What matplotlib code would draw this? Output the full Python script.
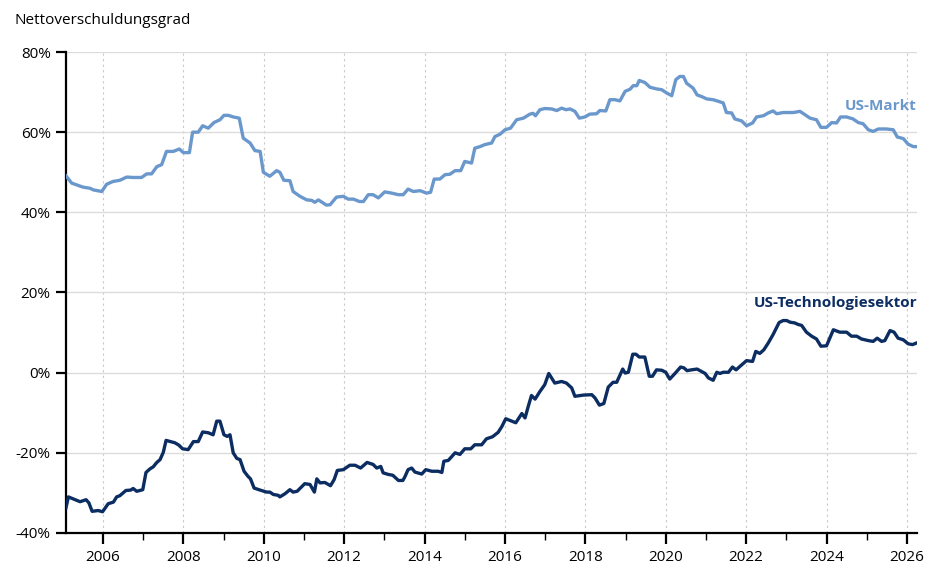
import matplotlib.pyplot as plt
from matplotlib.ticker import MultipleLocator, FuncFormatter

plt.rcParams['font.family'] = ['Open Sans', 'DejaVu Sans']

# US-Markt: (year, net gearing %)
markt_years = [2005.08, 2005.22, 2005.50, 2005.68, 2005.76, 2005.97, 2006.09, 2006.25,
               2006.42, 2006.59, 2006.75, 2006.96, 2007.09, 2007.21, 2007.34, 2007.46,
               2007.58, 2007.75, 2007.90, 2008.00, 2008.15, 2008.23, 2008.37, 2008.48,
               2008.62, 2008.76, 2008.91, 2009.01, 2009.12, 2009.24, 2009.39, 2009.49,
               2009.66, 2009.78, 2009.91, 2009.99, 2010.15, 2010.32, 2010.40, 2010.50,
               2010.65, 2010.73, 2010.90, 2011.07, 2011.19, 2011.27, 2011.36, 2011.56,
               2011.65, 2011.81, 2011.98, 2012.10, 2012.23, 2012.38, 2012.48, 2012.60,
               2012.72, 2012.85, 2013.01, 2013.18, 2013.35, 2013.47, 2013.59, 2013.72,
               2013.89, 2014.05, 2014.15, 2014.24, 2014.38, 2014.51, 2014.63, 2014.76,
               2014.90, 2015.00, 2015.17, 2015.25, 2015.38, 2015.50, 2015.67, 2015.75,
               2015.88, 2016.00, 2016.14, 2016.29, 2016.46, 2016.62, 2016.70, 2016.76,
               2016.87, 2016.99, 2017.16, 2017.29, 2017.41, 2017.52, 2017.62, 2017.74,
               2017.85, 2017.99, 2018.11, 2018.28, 2018.36, 2018.51, 2018.61, 2018.74,
               2018.86, 2018.99, 2019.11, 2019.19, 2019.28, 2019.34, 2019.48, 2019.61,
               2019.77, 2019.90, 2020.02, 2020.15, 2020.25, 2020.35, 2020.44, 2020.52,
               2020.68, 2020.78, 2020.89, 2021.02, 2021.18, 2021.31, 2021.43, 2021.51,
               2021.64, 2021.72, 2021.89, 2022.01, 2022.16, 2022.26, 2022.43, 2022.55,
               2022.67, 2022.76, 2022.92, 2023.17, 2023.34, 2023.59, 2023.75, 2023.86,
               2024.00, 2024.13, 2024.25, 2024.35, 2024.50, 2024.66, 2024.79, 2024.91,
               2025.04, 2025.16, 2025.29, 2025.49, 2025.66, 2025.76, 2025.91, 2026.03,
               2026.16, 2026.24]
markt_values = [49.1, 47.3, 46.3, 46.0, 45.6, 45.2, 47.0, 47.7,
                48.0, 48.8, 48.7, 48.7, 49.6, 49.6, 51.4, 51.9,
                55.2, 55.2, 55.8, 54.9, 54.9, 60.0, 60.0, 61.6,
                61.0, 62.4, 63.1, 64.2, 64.2, 63.8, 63.5, 58.5,
                57.3, 55.4, 55.2, 50.0, 49.0, 50.4, 50.0, 48.0,
                47.9, 45.2, 44.0, 43.1, 43.0, 42.5, 43.1, 41.8,
                41.9, 43.8, 44.0, 43.3, 43.3, 42.7, 42.7, 44.4,
                44.4, 43.6, 45.1, 44.8, 44.4, 44.4, 45.8, 45.2,
                45.4, 44.8, 45.0, 48.3, 48.3, 49.4, 49.5, 50.4,
                50.4, 52.7, 52.3, 56.0, 56.4, 56.9, 57.3, 58.9,
                59.5, 60.6, 61.0, 63.1, 63.5, 64.5, 64.7, 64.1,
                65.6, 65.9, 65.8, 65.4, 66.0, 65.6, 65.8, 65.2,
                63.5, 63.8, 64.5, 64.6, 65.4, 65.3, 68.1, 68.1,
                67.8, 70.2, 70.7, 71.6, 71.6, 72.9, 72.4, 71.2,
                70.8, 70.6, 69.8, 69.1, 73.1, 73.9, 73.9, 72.2,
                71.0, 69.3, 68.9, 68.3, 68.1, 67.7, 67.3, 64.9,
                64.8, 63.3, 62.8, 61.6, 62.3, 63.8, 64.1, 64.8,
                65.3, 64.6, 64.9, 64.9, 65.2, 63.5, 63.1, 61.2,
                61.2, 62.4, 62.3, 63.8, 63.8, 63.3, 62.4, 62.1,
                60.6, 60.2, 60.8, 60.8, 60.6, 58.8, 58.4, 57.0,
                56.4, 56.4]

# US-Technologiesektor
tech_years = [2005.08, 2005.14, 2005.26, 2005.43, 2005.58, 2005.65, 2005.73, 2005.88,
              2005.99, 2006.13, 2006.26, 2006.34, 2006.42, 2006.57, 2006.69, 2006.75,
              2006.84, 2006.99, 2007.07, 2007.17, 2007.25, 2007.34, 2007.42, 2007.50,
              2007.57, 2007.68, 2007.79, 2007.89, 2007.98, 2008.12, 2008.25, 2008.37,
              2008.48, 2008.62, 2008.74, 2008.83, 2008.91, 2009.01, 2009.09, 2009.16,
              2009.24, 2009.33, 2009.41, 2009.51, 2009.61, 2009.67, 2009.76, 2009.91,
              2010.07, 2010.15, 2010.24, 2010.36, 2010.40, 2010.53, 2010.65, 2010.73,
              2010.83, 2011.02, 2011.15, 2011.26, 2011.32, 2011.40, 2011.52, 2011.66,
              2011.75, 2011.83, 2011.98, 2012.14, 2012.27, 2012.41, 2012.57, 2012.72,
              2012.81, 2012.91, 2012.97, 2013.10, 2013.21, 2013.35, 2013.46, 2013.51,
              2013.59, 2013.68, 2013.76, 2013.93, 2014.03, 2014.18, 2014.34, 2014.43,
              2014.48, 2014.59, 2014.76, 2014.88, 2015.00, 2015.15, 2015.25, 2015.42,
              2015.54, 2015.69, 2015.83, 2015.92, 2016.02, 2016.12, 2016.27, 2016.42,
              2016.50, 2016.58, 2016.66, 2016.75, 2016.87, 2016.99, 2017.09, 2017.24,
              2017.41, 2017.53, 2017.66, 2017.74, 2017.95, 2018.16, 2018.24, 2018.35,
              2018.46, 2018.57, 2018.69, 2018.78, 2018.93, 2018.99, 2019.07, 2019.18,
              2019.26, 2019.34, 2019.48, 2019.59, 2019.67, 2019.77, 2019.90, 2020.00,
              2020.10, 2020.23, 2020.37, 2020.45, 2020.53, 2020.64, 2020.78, 2020.89,
              2020.98, 2021.06, 2021.18, 2021.27, 2021.35, 2021.43, 2021.56, 2021.66,
              2021.75, 2021.85, 2022.01, 2022.16, 2022.24, 2022.34, 2022.44, 2022.55,
              2022.67, 2022.82, 2022.92, 2023.01, 2023.09, 2023.21, 2023.30, 2023.38,
              2023.50, 2023.63, 2023.75, 2023.86, 2024.00, 2024.17, 2024.33, 2024.50,
              2024.62, 2024.75, 2024.87, 2025.04, 2025.16, 2025.26, 2025.37, 2025.45,
              2025.58, 2025.68, 2025.78, 2025.91, 2026.03, 2026.14, 2026.24]
tech_values = [-33.7, -31.0, -31.5, -32.2, -31.7, -32.5, -34.6, -34.4,
               -34.7, -32.7, -32.3, -31.0, -30.7, -29.4, -29.3, -28.9,
               -29.6, -29.2, -24.9, -24.0, -23.5, -22.4, -21.7, -19.9,
               -16.9, -17.2, -17.5, -18.1, -19.0, -19.2, -17.2, -17.2,
               -14.8, -15.0, -15.5, -12.1, -12.1, -15.5, -15.9, -15.5,
               -20.0, -21.4, -21.7, -24.6, -25.9, -26.5, -28.8, -29.3,
               -29.8, -29.8, -30.4, -30.6, -31.0, -30.2, -29.2, -29.8,
               -29.6, -27.7, -27.9, -29.8, -26.5, -27.5, -27.4, -28.2,
               -26.7, -24.4, -24.2, -23.1, -23.1, -23.8, -22.4, -22.9,
               -23.8, -23.4, -25.0, -25.4, -25.6, -26.9, -26.9, -26.0,
               -24.2, -23.8, -24.8, -25.3, -24.2, -24.6, -24.6, -24.9,
               -22.1, -21.9, -20.0, -20.4, -19.0, -19.0, -18.0, -18.0,
               -16.5, -16.0, -14.9, -13.5, -11.5, -11.9, -12.5, -10.2,
               -11.3, -8.4, -5.7, -6.6, -4.7, -3.0, -0.2, -2.6,
               -2.2, -2.6, -3.8, -5.9, -5.6, -5.5, -6.3, -8.1,
               -7.7, -3.6, -2.4, -2.4, 0.9, -0.1, 0.1, 4.6,
               4.6, 3.9, 3.9, -0.9, -0.9, 0.7, 0.6, 0.1,
               -1.6, -0.2, 1.4, 1.2, 0.5, 0.7, 0.9, 0.3,
               -0.2, -1.3, -1.9, 0.1, -0.2, 0.1, 0.1, 1.4,
               0.7, 1.6, 3.0, 2.8, 5.3, 4.8, 5.7, 7.4,
               9.5, 12.5, 13.0, 13.0, 12.6, 12.4, 12.0, 11.8,
               10.1, 9.1, 8.4, 6.6, 6.7, 10.7, 10.1, 10.1,
               9.1, 9.1, 8.4, 8.0, 7.8, 8.6, 7.8, 8.0,
               10.5, 10.1, 8.6, 8.2, 7.2, 7.0, 7.4]

markt_color = '#6b98cc'
tech_color = '#0c2d62'

fig = plt.figure(figsize=(9.4, 5.78), dpi=100)
ax = fig.add_axes([0.0702, 0.0779, 0.9053, 0.8321])

ax.plot(markt_years, markt_values, color=markt_color, lw=2.4, solid_joinstyle='round', zorder=3)
ax.plot(tech_years, tech_values, color=tech_color, lw=2.4, solid_joinstyle='round', zorder=3)

ax.set_xlim(2005.08, 2026.25)
ax.set_ylim(-40, 80)

ax.xaxis.set_major_locator(MultipleLocator(2))
ax.xaxis.set_minor_locator(MultipleLocator(1))
ax.xaxis.set_major_formatter(FuncFormatter(lambda v, p: f'{int(v)}'))
ax.yaxis.set_major_locator(MultipleLocator(20))
ax.yaxis.set_major_formatter(FuncFormatter(lambda v, p: f'{int(v)}%'))

ax.grid(axis='y', color='#dcdcdc', lw=1, zorder=0)
ax.grid(axis='x', which='major', color='#c8c8c8', lw=0.8, ls=(0, (2, 3)), zorder=0)
ax.grid(axis='x', which='minor', visible=False)

for s in ['top', 'right']:
    ax.spines[s].set_visible(False)
for s in ['left', 'bottom']:
    ax.spines[s].set_linewidth(1.6)
    ax.spines[s].set_color('black')

ax.tick_params(axis='y', length=7, width=1.6, labelsize=11, pad=4)
ax.tick_params(axis='x', which='major', length=8, width=1.6, labelsize=11, pad=4)
ax.tick_params(axis='x', which='minor', length=5, width=1.0)

ax.text(2026.25, 66.5, 'US-Markt', color=markt_color, fontsize=11, fontweight='bold',
        ha='right', va='center')
ax.text(2026.25, 17.5, 'US-Technologiesektor', color=tech_color, fontsize=11,
        fontweight='bold', ha='right', va='center')

fig.text(15 / 940, 1 - 21 / 578, 'Nettoverschuldungsgrad', fontsize=11, ha='left', va='center')

fig.savefig('out.png', dpi=100)
